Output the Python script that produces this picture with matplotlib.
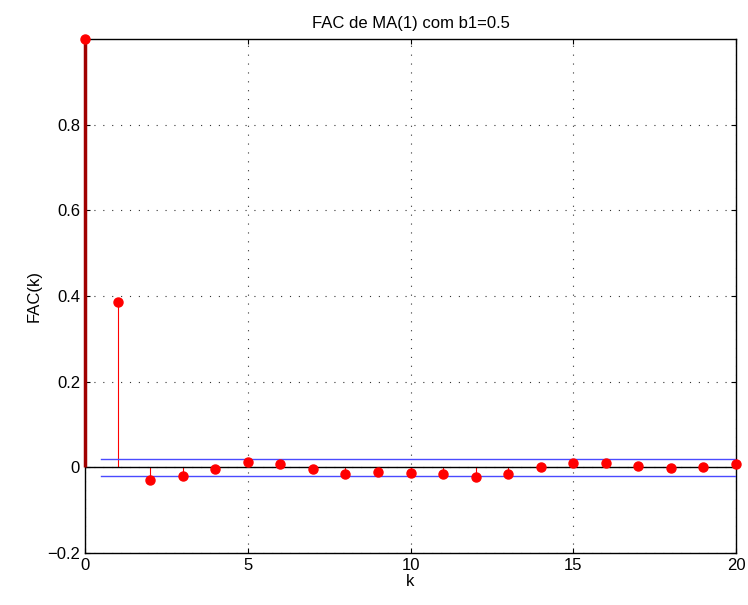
import numpy as np
import matplotlib
matplotlib.use("Agg")
import matplotlib.pyplot as plt

plt.rcParams['font.family'] = ['Liberation Sans', 'DejaVu Sans']

lags = list(range(0, 21))
fac = [1.0, 0.385, -0.030, -0.021, -0.005, 0.012, 0.007, -0.003, -0.015, -0.012,
       -0.013, -0.016, -0.022, -0.015, 0.001, 0.009, 0.011, 0.004, -0.002, 0.001, 0.008]
conf = 0.02
conf_x = [0.5, 20]

fig = plt.figure(figsize=(7.48, 6.05), dpi=100)
ax = fig.add_axes([0.1136, 0.086, 0.8704, 0.8495])

# stems
ax.vlines(lags[1:], 0, fac[1:], color='red', linewidth=0.8, zorder=2)
ax.vlines(lags[0], 0, fac[0], color='#a00000', linewidth=2.5, zorder=3, clip_on=False)
ax.axhline(0, color='black', linewidth=1.0, zorder=2)
ax.plot(lags, fac, 'o', color='red', markersize=6.5, zorder=4, clip_on=False)

# confidence band
ax.plot(conf_x, [conf, conf], color='#4a4aff', linewidth=1.0, zorder=3)
ax.plot(conf_x, [-conf, -conf], color='#4a4aff', linewidth=1.0, zorder=3)

ax.set_xlim(0, 20)
ax.set_ylim(-0.2, 1.0)
ax.set_xticks([0, 5, 10, 15, 20])
ax.set_yticks([-0.2, 0, 0.2, 0.4, 0.6, 0.8])
ax.set_yticklabels(['\u22120.2', '0', '0.2', '0.4', '0.6', '0.8'])
ax.grid(True, linestyle=(0, (1, 7)), color='#333333', linewidth=0.8)
ax.tick_params(direction='in', labelsize=12, top=True, right=True)
for s in ax.spines.values():
    s.set_linewidth(1.0)

ax.set_title("FAC de MA(1) com b1=0.5", fontsize=12, pad=8)
ax.set_xlabel("k", fontsize=12, labelpad=1)
ax.set_ylabel("FAC(k)", fontsize=12)

fig.savefig("out.png", dpi=100)
